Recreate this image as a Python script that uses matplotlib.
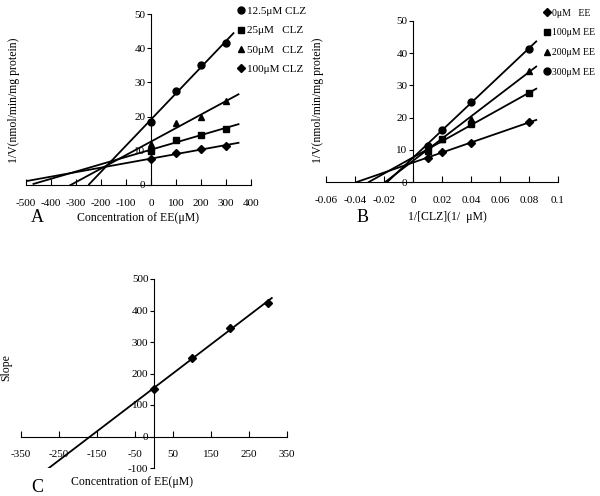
import numpy as np
import matplotlib
matplotlib.use("Agg")
import matplotlib.pyplot as plt

plt.rcParams['font.family'] = ['Liberation Serif', 'DejaVu Serif']
plt.rcParams['font.size'] = 8
plt.rcParams['axes.unicode_minus'] = False

# panel A: 1/V vs [EE] at four CLZ levels
ee_conc = [0, 100, 200, 300]
a_labels = ["12.5\u03bcM CLZ", "25\u03bcM   CLZ", "50\u03bcM   CLZ", "100\u03bcM CLZ"]
a_markers = ["o", "s", "^", "D"]
a_vals = [
    [18.5, 27.5, 35.0, 41.5],
    [9.8, 13.3, 14.5, 16.5],
    [12.0, 18.0, 20.0, 24.5],
    [7.5, 9.3, 10.5, 11.5],
]
a_line_start = [-248, -470, -325, -500]
a_line_end = [330, 350, 350, 350]

# panel B: 1/V vs 1/[CLZ] at four EE levels
inv_clz = [0.01, 0.02, 0.04, 0.08]
b_labels = ["0\u03bcM   EE", "100\u03bcM EE", "200\u03bcM EE", "300\u03bcM EE"]
b_markers = ["D", "s", "^", "o"]
b_vals = [
    [7.5, 9.3, 12.2, 18.5],
    [9.5, 13.2, 18.0, 27.5],
    [10.5, 13.5, 19.5, 34.5],
    [11.3, 16.3, 25.0, 41.3],
]

# panel C: slope replot
c_slope = [150, 250, 345, 425]


def cross_axes(ax):
    ax.spines['left'].set_position(('data', 0))
    ax.spines['bottom'].set_position(('data', 0))
    ax.spines['top'].set_visible(False)
    ax.spines['right'].set_visible(False)
    ax.tick_params(axis='x', direction='in', length=4, pad=10, labelsize=8)
    ax.tick_params(axis='y', direction='out', length=3, pad=1, labelsize=8)
    ax.patch.set_visible(False)


fig = plt.figure(figsize=(6, 4.96), dpi=100)
W, H = 600, 496


def add_ax(x0, x1, ytop, ybot):
    return fig.add_axes([x0 / W, 1 - ybot / H, (x1 - x0) / W, (ybot - ytop) / H])


# ---- A ----
ax = add_ax(26, 251, 14, 185)
for y, lab, mk, xs, xe in zip(a_vals, a_labels, a_markers, a_line_start, a_line_end):
    m, b = np.polyfit(ee_conc, y, 1)
    xx = np.array([xs, xe])
    ax.plot(xx, m * xx + b, color='black', lw=1.3)
    ax.plot(ee_conc, y, mk, color='black', ms=5 if mk != 'D' else 4.5, label=lab)
ax.set_xlim(-500, 400)
ax.set_ylim(0, 50)
ax.set_xticks(range(-500, 401, 100))
ax.set_yticks(range(0, 51, 10))
cross_axes(ax)
ax.legend(loc='upper left', bbox_to_anchor=(0.92, 1.07), frameon=False, fontsize=8,
          handlelength=0.6, handletextpad=0.3, labelspacing=0.85, borderaxespad=0)
fig.text(14 / W, 1 - 100 / H, "1/V(nmol/min/mg protein)", rotation=90, ha='center', va='center', fontsize=8.5)
fig.text(138 / W, 1 - 218 / H, "Concentration of EE(\u03bcM)", ha='center', va='center', fontsize=8.5)
fig.text(37 / W, 1 - 218 / H, "A", ha='center', va='center', fontsize=13)

# ---- B ----
ax = add_ax(326, 558, 21, 182)
for y, lab, mk in zip(b_vals, b_labels, b_markers):
    m, b = np.polyfit(inv_clz, y, 1)
    xx = np.array([-b / m, 0.085])
    ax.plot(xx, m * xx + b, color='black', lw=1.3)
    ax.plot(inv_clz, y, mk, color='black', ms=5 if mk != 'D' else 4.5, label=lab)
ax.set_xlim(-0.06, 0.1)
ax.set_ylim(0, 50)
ax.set_xticks([-0.06, -0.04, -0.02, 0, 0.02, 0.04, 0.06, 0.08, 0.1])
ax.set_xticklabels(["-0.06", "-0.04", "-0.02", "0", "0.02", "0.04", "0.06", "0.08", "0.1"])
ax.set_yticks(range(0, 51, 10))
cross_axes(ax)
ax.legend(loc='upper left', bbox_to_anchor=(0.925, 1.1), frameon=False, fontsize=7,
          handlelength=0.6, handletextpad=0.2, labelspacing=1.1, borderaxespad=0)
fig.text(318 / W, 1 - 100 / H, "1/V(nmol/min/mg protein)", rotation=90, ha='center', va='center', fontsize=8.5)
fig.text(447 / W, 1 - 217 / H, "1/[CLZ](1/  \u03bcM)", ha='center', va='center', fontsize=8.5)
fig.text(363 / W, 1 - 217 / H, "B", ha='center', va='center', fontsize=13)

# ---- C ----
ax = add_ax(21, 287, 279, 468)
m, b = np.polyfit(ee_conc, c_slope, 1)
xx = np.array([-280, 310])
ax.plot(xx, m * xx + b, color='black', lw=1.3)
ax.plot(ee_conc, c_slope, 'D', color='black', ms=4.5)
ax.set_xlim(-350, 350)
ax.set_ylim(-100, 500)
ax.set_xticks(range(-350, 351, 100))
ax.set_yticks(range(-100, 501, 100))
cross_axes(ax)
fig.text(6 / W, 1 - 368 / H, "Slope", rotation=90, ha='center', va='center', fontsize=8.5)
fig.text(132 / W, 1 - 482 / H, "Concentration of EE(\u03bcM)", ha='center', va='center', fontsize=8.5)
fig.text(37 / W, 1 - 487 / H, "C", ha='center', va='center', fontsize=13)

fig.savefig("out.png", dpi=100)
